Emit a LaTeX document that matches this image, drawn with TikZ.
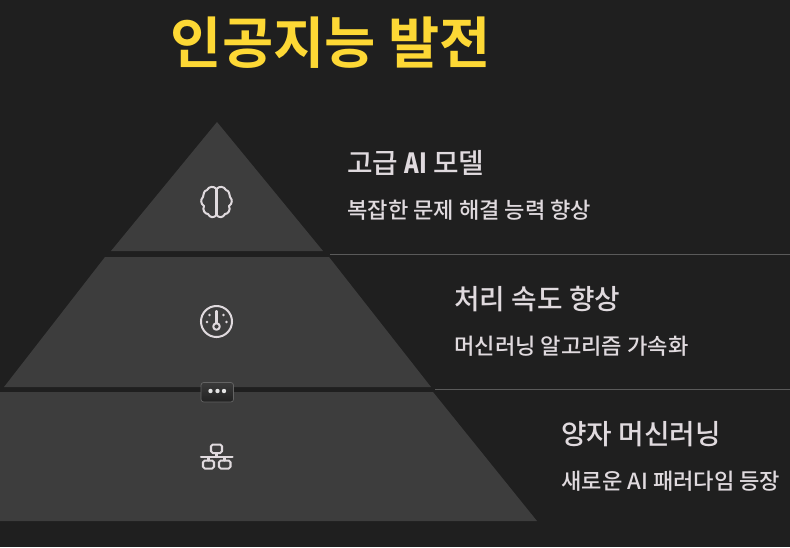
\documentclass[tikz,border=0pt]{standalone}
\usepackage{fontspec}
\setmainfont{Noto Sans CJK KR}[UprightFont=* Medium, BoldFont=* Black]
\newfontfamily\titlefont{Noto Sans CJK KR Bold}
\usetikzlibrary{positioning,calc}
\definecolor{bgdark}{HTML}{1F1F1F}
\definecolor{layergray}{HTML}{3D3D3D}
\definecolor{titleyellow}{HTML}{FDD835}
\definecolor{textlight}{HTML}{E0DADE}
\definecolor{sepgray}{HTML}{5A5A5A}
\definecolor{btntop}{HTML}{3A3A3A}
\definecolor{btnbot}{HTML}{222222}

\begin{document}
\begin{tikzpicture}[
    x=0.2mm,y=-0.2mm,
    layer/.style={fill=layergray},
    headline/.style={anchor=west, inner sep=0pt, text=textlight, font=\fontsize{15.8}{18}\selectfont},
    subline/.style={anchor=west, inner sep=0pt, text=textlight, font=\fontsize{12.6}{15}\selectfont},
    sepline/.style={draw=sepgray, line width=0.7pt},
    iconline/.style={draw=textlight, line width=1.15pt, line join=round, line cap=round}
  ]
    % Hintergrund
    \fill[bgdark] (0,0) rectangle (790,547);
    \useasboundingbox (0,0) rectangle (790,547);
    \clip (0,0) rectangle (790,547);

    % Titel
    \node[inner sep=0pt, text=titleyellow, font=\titlefont\fontsize{31.7}{38}\selectfont] (title) at (331,43) {인공지능 발전};

    % Pyramide
    \fill[layer] (217,122) -- (323,251) -- (111,251) -- cycle;
    \fill[layer] (105,257) -- (329,257) -- (431,387) -- (4,387) -- cycle;
    \fill[layer] (-2,392) -- (433,392) -- (537,521) -- (-106,521) -- cycle;

    % Trennlinien
    \coordinate (sepa) at (330,254.5);
    \coordinate (sepb) at (435,389.5);
    \draw[sepline] (sepa) -- (790,254.5);
    \draw[sepline] (sepb) -- (790,389.5);

    % Texte
    \node[headline] (head1) at (347,163) {고급 \scalebox{0.8}[1]{\textbf{AI}} 모델};
    \node[subline]  (sub1)  at (347,210) {복잡한 문제 해결 능력 향상};
    \node[headline] (head2) at (454,299) {처리 속도 향상};
    \node[subline]  (sub2)  at (454,346) {머신러닝 알고리즘 가속화};
    \node[headline] (head3) at (561,434) {양자 머신러닝};
    \node[subline]  (sub3)  at (561,481) {새로운 AI 패러다임 등장};

    % Gehirn
    \draw[iconline] (216.5,189) .. controls (214,186) and (209,186) .. (207,190)
      .. controls (203,191) and (204,195) .. (203,197)
      .. controls (200,200) and (201,204) .. (204,206)
      .. controls (202,210) and (205,214) .. (208,214)
      .. controls (210,218) and (214,218) .. (216.5,215)
      .. controls (219,218) and (223,218) .. (225,214)
      .. controls (228,214) and (231,210) .. (229,206)
      .. controls (232,204) and (233,200) .. (230,197)
      .. controls (229,195) and (230,191) .. (226,190)
      .. controls (224,186) and (219,186) .. (216.5,189) -- cycle;
    \draw[iconline] (216.5,189) -- (216.5,215);

    % Tacho
    \draw[iconline] (216.5,321.5) circle (15.5);
    \draw[iconline] (216.5,311) -- (216.5,323);
    \draw[iconline] (216.5,326.5) circle (3.3);
    \foreach \dotx/\doty in {209.5/315, 223.5/315, 207/322, 226.5/322}
      \fill[textlight] (\dotx,\doty) circle (1.4);

    % Netzwerk
    \draw[iconline, rounded corners=1pt] (211,444.5) rectangle (222,453);
    \draw[iconline] (216.5,453) -- (216.5,457);
    \draw[iconline] (201,457) -- (232.5,457);
    \draw[iconline] (208.5,457) -- (208.5,460.5);
    \draw[iconline] (224.5,457) -- (224.5,460.5);
    \draw[iconline, rounded corners=1pt] (203,460.5) rectangle (214,468.5);
    \draw[iconline, rounded corners=1pt] (219,460.5) rectangle (230.5,468.5);

    % Knopf
    \draw[draw=layergray!80!white, top color=btntop, bottom color=btnbot, rounded corners=1.5pt, line width=0.4pt] (201,382.5) rectangle (233.5,402);
    \foreach \dotx in {210.5,217.5,224}
      \fill[white!90!black] (\dotx,391) circle (2.2);
  \end{tikzpicture}
\end{document}
